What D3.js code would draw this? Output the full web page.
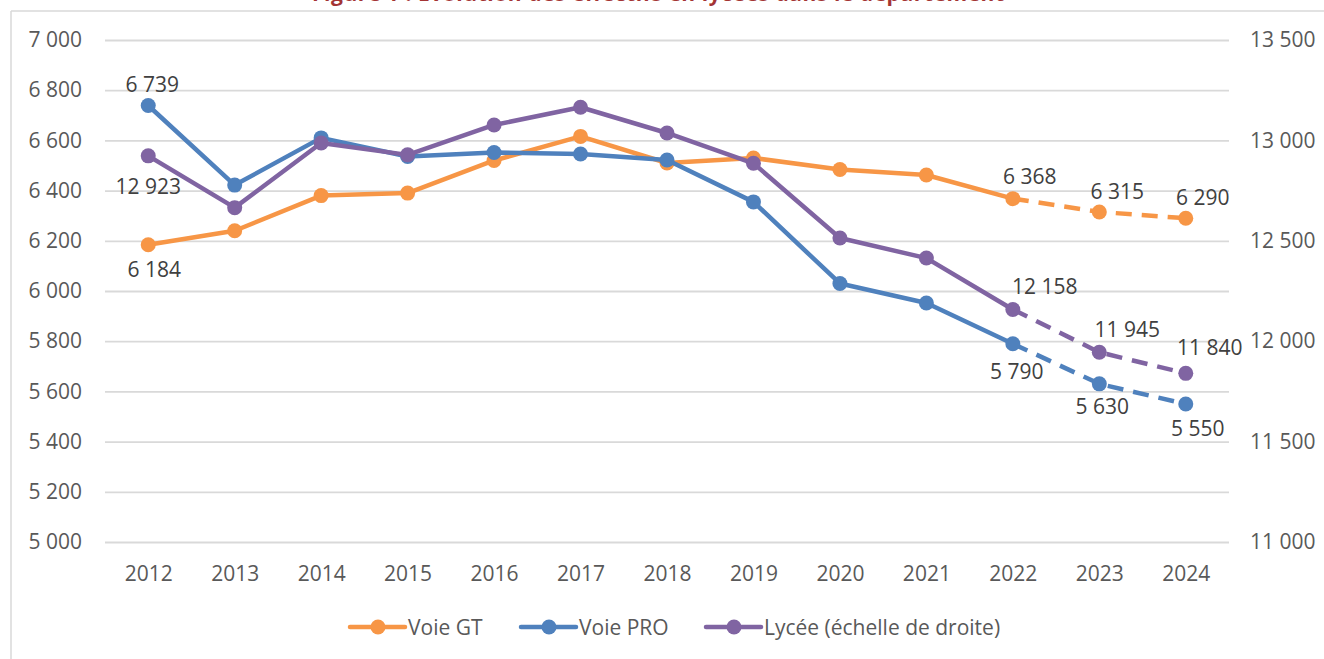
<!DOCTYPE html>
<html lang="fr">
<head>
<meta charset="utf-8">
<script src="https://cdn.jsdelivr.net/npm/d3@7"></script>
<style>
  html, body { margin: 0; padding: 0; background: #ffffff; }
  svg text { font-family: "Open Sans", "Noto Sans", sans-serif; }
</style>
</head>
<body>
<div id="chartDiv"></div>
<script>

// Data

var years     = [2012, 2013, 2014, 2015, 2016, 2017, 2018, 2019, 2020, 2021, 2022, 2023, 2024];
var voieGT    = [6184, 6240, 6380, 6390, 6520, 6616, 6510, 6530, 6484, 6462, 6368, 6315, 6290];
var voiePRO   = [6739, 6422, 6610, 6536, 6552, 6546, 6522, 6355, 6030, 5952, 5790, 5630, 5550];
var lycee     = [12923, 12665, 12987, 12928, 13077, 13165, 13037, 12886, 12514, 12414, 12158, 11945, 11840];
var leftTicks  = [5000, 5200, 5400, 5600, 5800, 6000, 6200, 6400, 6600, 6800, 7000];
var rightTicks = [11000, 11500, 12000, 12500, 13000, 13500];
var seriesNames = ["Voie GT", "Voie PRO", "Lycée (échelle de droite)"];
var titleText = "Figure 1 : Évolution des effectifs en lycées dans le département";

// Index from which the values are projections (dashed)
var FIRST_PROJ = 10;

// Constants

var WIDTH      = 1324;
var HEIGHT     = 659;
var PLOT_LEFT  = 105;
var PLOT_RIGHT = 1229;
var PLOT_TOP   = 40;
var PLOT_BOT   = 542;
var TEXT_COL   = "#595959";
var GRID_COL   = "#D9D9D9";
var FONT_SIZE  = 21;

var fr  = d3.formatLocale({ decimal: ",", thousands: " ", grouping: [3], currency: ["", " €"] });
var fmt = fr.format(",");

/*---------------------------
| scales
-----------------*/

var x = d3.scalePoint()
	.domain(years)
	.range([PLOT_LEFT, PLOT_RIGHT])
	.padding(0.5);

var yLeft = d3.scaleLinear()
	.domain([5000, 7000])
	.range([PLOT_BOT, PLOT_TOP]);

var yRight = d3.scaleLinear()
	.domain([11000, 13500])
	.range([PLOT_BOT, PLOT_TOP]);

// Series, drawn in Excel order (secondary axis last, on top)
var series = [
	{ name: seriesNames[0], values: voieGT,  scale: yLeft,  color: "#F79646",
	  // label placement: [index, dx, dy] relative to the point
	  labels: [[0, 6, 25], [10, 17, -22], [11, 18, -20], [12, 17, -21]] },
	{ name: seriesNames[1], values: voiePRO, scale: yLeft,  color: "#4F81BD",
	  labels: [[0, 4, -21], [10, 4, 28], [11, 3, 23], [12, 12, 24]] },
	{ name: seriesNames[2], values: lycee,   scale: yRight, color: "#8064A2",
	  labels: [[0, 0, 31], [10, 32, -23], [11, 28, -23], [12, 24, -26]] }
];

var svg = d3.select("#chartDiv").append("svg")
	.attr("width", WIDTH)
	.attr("height", HEIGHT)
	.style("display", "block");

// Title: the reference picture only shows its lower edge
svg.append("text")
	.attr("x", 312)
	.attr("y", 1)
	.attr("textLength", 692)
	.attr("lengthAdjust", "spacing")
	.style("font-size", FONT_SIZE + "px")
	.style("font-weight", "bold")
	.style("fill", "#A33434")
	.text(titleText);

// Chart area border (only top and left edges are visible)
svg.append("line")
	.attr("x1", 11).attr("y1", 11).attr("x2", WIDTH).attr("y2", 11)
	.style("stroke", GRID_COL).style("stroke-width", 1.5);
svg.append("line")
	.attr("x1", 11).attr("y1", 11).attr("x2", 11).attr("y2", HEIGHT)
	.style("stroke", GRID_COL).style("stroke-width", 1.5);

/*---------------------------
| axes
-----------------*/

var leftAxis = svg.append("g")
	.attr("transform", "translate(" + PLOT_LEFT + ",0)")
	.call(d3.axisLeft(yLeft)
		.tickValues(leftTicks)
		.tickSize(-(PLOT_RIGHT - PLOT_LEFT))
		.tickPadding(23)
		.tickFormat(fmt));

var rightAxis = svg.append("g")
	.attr("transform", "translate(" + PLOT_RIGHT + ",0)")
	.call(d3.axisRight(yRight)
		.tickValues(rightTicks)
		.tickSize(0)
		.tickPadding(21)
		.tickFormat(fmt));

var bottomAxis = svg.append("g")
	.attr("transform", "translate(0," + PLOT_BOT + ")")
	.call(d3.axisBottom(x)
		.tickSize(0)
		.tickPadding(24)
		.tickFormat(d3.format("d")));

[leftAxis, rightAxis, bottomAxis].forEach(function(ax) {
	ax.select(".domain").remove();
	ax.selectAll("text")
		.style("font-size", FONT_SIZE + "px")
		.style("font-family", "'Open Sans', sans-serif")
		.style("fill", TEXT_COL);
});
leftAxis.selectAll(".tick line")
	.style("stroke", GRID_COL)
	.style("stroke-width", 1.8);

/*---------------------------
| lines, markers, labels
-----------------*/

series.forEach(function(s) {
	var pts = s.values.map(function(v, i) { return { year: years[i], v: v, i: i }; });
	var line = d3.line()
		.x(function(d) { return x(d.year); })
		.y(function(d) { return s.scale(d.v); });

	var g = svg.append("g").attr("class", "series");

	g.append("path")
		.datum(pts.slice(0, FIRST_PROJ + 1))
		.attr("d", line)
		.style("fill", "none")
		.style("stroke", s.color)
		.style("stroke-width", 4.5)
		.style("stroke-linejoin", "round")
		.style("stroke-linecap", "round");

	// projected years: dashed
	g.append("path")
		.datum(pts.slice(FIRST_PROJ))
		.attr("d", line)
		.style("fill", "none")
		.style("stroke", s.color)
		.style("stroke-width", 4.5)
		.style("stroke-dasharray", "16,10");

	g.selectAll("circle")
		.data(pts)
		.enter().append("circle")
		.attr("cx", function(d) { return x(d.year); })
		.attr("cy", function(d) { return s.scale(d.v); })
		.attr("r", 7.5)
		.style("fill", s.color);

	g.selectAll("text.dataLabel")
		.data(s.labels)
		.enter().append("text")
		.attr("class", "dataLabel")
		.attr("x", function(l) { return x(years[l[0]]) + l[1]; })
		.attr("y", function(l) { return s.scale(s.values[l[0]]) + l[2]; })
		.attr("dy", "0.36em")
		.attr("text-anchor", "middle")
		.style("font-size", FONT_SIZE + "px")
		.style("fill", "#404040")
		.text(function(l) { return fmt(s.values[l[0]]); });
});

/*---------------------------
| legend
-----------------*/

var LEGEND_Y = 627;
var legendX  = [350, 521, 706];   // left end of each legend line symbol

var legend = svg.append("g").attr("class", "legend");
series.forEach(function(s, i) {
	var lx = legendX[i];
	legend.append("line")
		.attr("x1", lx).attr("x2", lx + 55)
		.attr("y1", LEGEND_Y).attr("y2", LEGEND_Y)
		.style("stroke", s.color)
		.style("stroke-width", 4.5)
		.style("stroke-linecap", "round");
	legend.append("circle")
		.attr("cx", lx + 28).attr("cy", LEGEND_Y)
		.attr("r", 7.5)
		.style("fill", s.color);
	legend.append("text")
		.attr("x", lx + 58)
		.attr("y", LEGEND_Y)
		.attr("dy", "0.36em")
		.style("font-size", FONT_SIZE + "px")
		.style("fill", TEXT_COL)
		.text(s.name);
});

</script>
</body>
</html>
